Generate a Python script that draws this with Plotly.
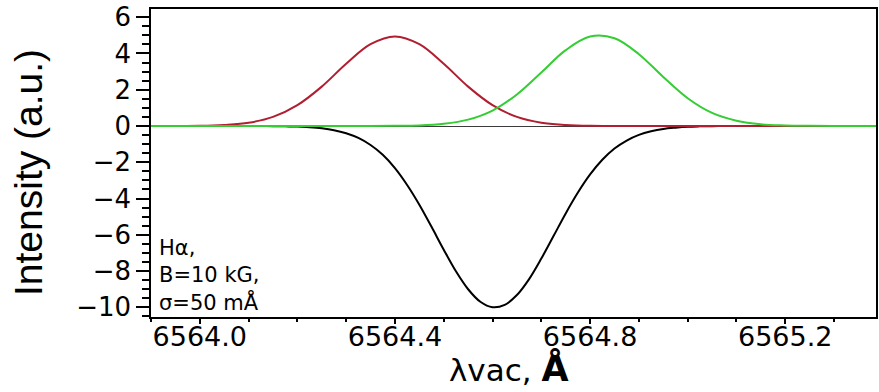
import plotly.graph_objects as go

# Vacuum wavelength grid for the two sigma components (Angstrom)
wavelength = [6563.90, 6563.95, 6564.00, 6564.05, 6564.10, 6564.15, 6564.20, 6564.25,
              6564.30, 6564.35, 6564.40, 6564.45, 6564.50, 6564.55, 6564.60, 6564.65,
              6564.70, 6564.75, 6564.80, 6564.85, 6564.90, 6564.95, 6565.00, 6565.05,
              6565.10, 6565.15, 6565.20, 6565.25, 6565.30, 6565.35, 6565.40]

# sigma component, blue-shifted (red curve)
sigma_minus = [0.00, 0.00, 0.01, 0.06, 0.18, 0.50, 1.15, 2.17, 3.43, 4.51, 4.94, 4.51,
               3.43, 2.17, 1.15, 0.50, 0.18, 0.06, 0.01, 0.00, 0.00, 0.00, 0.00, 0.00,
               0.00, 0.00, 0.00, 0.00, 0.00, 0.00, 0.00]

# sigma component, red-shifted (green curve)
sigma_plus = [0.00, 0.00, 0.00, 0.00, 0.00, 0.00, 0.00, 0.00, 0.00, 0.00, 0.01, 0.03,
              0.12, 0.35, 0.85, 1.74, 2.95, 4.18, 4.93, 4.84, 3.96, 2.70, 1.53, 0.72,
              0.29, 0.09, 0.03, 0.01, 0.00, 0.00, 0.00]

# Finer wavelength grid for the pi component
wavelength_pi = [6563.90, 6564.00, 6564.100, 6564.125, 6564.150, 6564.175, 6564.200,
                 6564.225, 6564.250, 6564.275, 6564.300, 6564.325, 6564.350, 6564.375,
                 6564.400, 6564.425, 6564.450, 6564.475, 6564.500, 6564.525, 6564.550,
                 6564.575, 6564.600, 6564.625, 6564.650, 6564.675, 6564.700, 6564.725,
                 6564.750, 6564.775, 6564.800, 6564.825, 6564.850, 6564.875, 6564.900,
                 6564.925, 6564.950, 6564.975, 6565.000, 6565.025, 6565.050, 6565.075,
                 6565.100, 6565.20, 6565.40]

# pi component (black curve)
pi_comp = [0.00, 0.00, 0.00, 0.00, -0.01, -0.02, -0.03,
           -0.07, -0.13, -0.23, -0.40, -0.66, -1.05, -1.59,
           -2.32, -3.25, -4.34, -5.56, -6.82, -8.01, -9.00,
           -9.69, -9.99, -9.86, -9.32, -8.44, -7.31, -6.07,
           -4.82, -3.67, -2.67, -1.86, -1.24, -0.80, -0.49,
           -0.29, -0.16, -0.09, -0.04, -0.02, -0.01, 0.00,
           0.00, 0.00, 0.00]

x_tickvals = [6564.0, 6564.4, 6564.8, 6565.2]
x_ticktext = ["6564.0", "6564.4", "6564.8", "6565.2"]
y_tickvals = [-10, -8, -6, -4, -2, 0, 2, 4, 6]

TICK_FONT = "DejaVu Sans, Liberation Sans, Arial, sans-serif"

fig = go.Figure()
fig.add_trace(go.Scatter(x=wavelength_pi, y=pi_comp, mode="lines",
                         line=dict(color="black", width=2, shape="spline"),
                         showlegend=False))
fig.add_trace(go.Scatter(x=wavelength, y=sigma_minus, mode="lines",
                         line=dict(color="rgb(176,30,48)", width=2, shape="spline"),
                         showlegend=False))
fig.add_trace(go.Scatter(x=wavelength, y=sigma_plus, mode="lines",
                         line=dict(color="rgb(52,205,52)", width=2, shape="spline"),
                         showlegend=False))

fig.update_xaxes(
    range=[6563.90, 6565.386],
    tickvals=x_tickvals, ticktext=x_ticktext,
    ticks="outside", ticklen=5, tickwidth=1.5, tickcolor="black",
    minor=dict(dtick=0.1, tick0=6564.0, ticks="outside", ticklen=3,
               tickwidth=1.5, tickcolor="black", showgrid=False),
    showline=True, linecolor="black", linewidth=1.5, mirror=True,
    showgrid=False, zeroline=False,
    ticklabelstandoff=-10,
    tickfont=dict(family=TICK_FONT, size=27, color="black"),
)
fig.update_yaxes(
    range=[-10.53, 6.45],
    tickvals=y_tickvals,
    ticks="outside", ticklen=13, tickwidth=1.5, tickcolor="black",
    minor=dict(dtick=0.5, tick0=0, ticks="outside", ticklen=7,
               tickwidth=1.5, tickcolor="black", showgrid=False),
    showline=True, linecolor="black", linewidth=1.5, mirror=True,
    showgrid=False,
    zeroline=True, zerolinecolor="rgb(60,60,60)", zerolinewidth=1,
    tickfont=dict(family=TICK_FONT, size=26, color="black"),
)

# axis titles and the parameter note
fig.add_annotation(
    text="Intensity (a.u.)", textangle=-90,
    xref="paper", yref="paper", x=-0.17, y=0.47,
    xanchor="center", yanchor="middle", showarrow=False,
    font=dict(family="Liberation Sans, Arial, sans-serif", size=39, color="black"),
)
fig.add_annotation(
    text="λvac, <b><span style='font-size:35px'>Å</span></b>",
    xref="paper", yref="paper", x=0.494, y=-0.24,
    xanchor="center", yanchor="bottom", showarrow=False,
    font=dict(family=TICK_FONT, size=31, color="black"),
)
fig.add_annotation(
    text="Hα,<br>B=10 kG,<br>σ=50 mÅ", align="left",
    xref="paper", yref="paper", x=0.008, y=0.0,
    xanchor="left", yanchor="bottom", showarrow=False,
    font=dict(family=TICK_FONT, size=21, color="black"),
)

fig.update_layout(
    width=879, height=392,
    margin=dict(l=151, r=1, t=9, b=75),
    paper_bgcolor="white", plot_bgcolor="white",
)

fig.write_html("out.html")
